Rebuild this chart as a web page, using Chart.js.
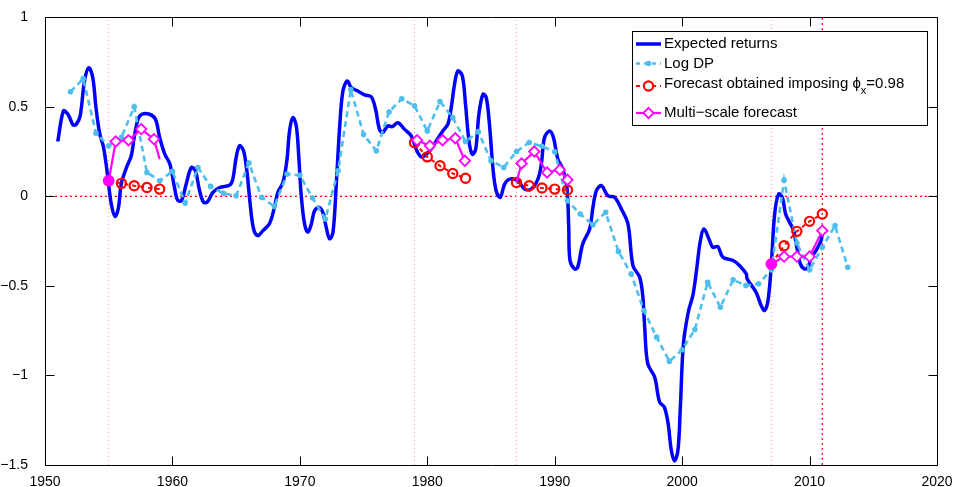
<!DOCTYPE html>
<html>
<head>
<meta charset="utf-8">
<script src="https://cdn.jsdelivr.net/npm/chart.js@4.4.1/dist/chart.umd.min.js"></script>
<style>
  html, body { margin: 0; padding: 0; background: #fff; }
  #wrap { width: 958px; height: 487px; }
</style>
</head>
<body>
<div id="wrap"><canvas id="c" width="958" height="487"></canvas></div>
<script>
// expected returns (smooth curve)
const erYears = [
  1951.0, 1951.45, 1951.8, 1952.2, 1952.45, 1952.76, 1953.1, 1953.44, 1953.75, 1954.0,
  1954.3, 1954.6, 1954.93, 1955.2, 1955.5, 1955.77, 1955.98, 1956.4, 1956.77, 1957.0,
  1957.3, 1957.6, 1958.2, 1958.67, 1959.0, 1959.4, 1959.8, 1960.16, 1960.4, 1960.7,
  1961.08, 1961.48, 1961.8, 1962.13, 1962.45, 1962.75, 1963.17, 1963.7, 1964.5, 1964.74,
  1965.0, 1965.27, 1965.58, 1965.84, 1966.1, 1966.37, 1966.7, 1967.1, 1967.6, 1967.94,
  1968.27, 1968.67, 1968.98, 1969.19, 1969.45, 1969.72, 1969.92, 1970.1, 1970.37, 1970.63,
  1970.9, 1971.15, 1971.5, 1971.8, 1972.07, 1972.33, 1972.6, 1972.86, 1973.12, 1973.38,
  1973.72, 1974.03, 1974.55, 1975.08, 1975.6, 1975.94, 1976.24, 1976.5, 1976.9, 1977.25,
  1977.7, 1978.2, 1978.74, 1979.18, 1979.53, 1979.87, 1980.3, 1980.7, 1981.22, 1981.62,
  1981.88, 1982.14, 1982.4, 1982.75, 1983.0, 1983.27, 1983.53, 1983.8, 1984.05, 1984.37,
  1984.63, 1984.9, 1985.15, 1985.4, 1985.73, 1986.07, 1986.46, 1987.1, 1987.64, 1988.16,
  1988.68, 1988.95, 1989.2, 1989.6, 1989.9, 1990.25, 1990.64, 1990.96, 1991.1, 1991.2,
  1991.56, 1991.8, 1992.2, 1992.74, 1993.0, 1993.27, 1993.66, 1994.18, 1994.7, 1995.23,
  1995.75, 1996.14, 1996.67, 1996.92, 1997.06, 1997.3, 1997.84, 1998.23, 1998.6, 1998.9,
  1999.15, 1999.4, 1999.67, 1999.86, 2000.1, 2000.5, 2000.85, 2001.15, 2001.4, 2001.7,
  2002.16, 2002.4, 2002.8, 2003.2, 2004.0, 2004.5, 2005.03, 2005.1, 2005.8, 2006.2,
  2006.47, 2006.75, 2007.0, 2007.26, 2007.57, 2007.86, 2008.12, 2008.44, 2008.75, 2009.0,
  2009.28, 2009.6, 2009.87, 2010.13, 2010.5, 2010.9, 2011.0
];
const erValues = [
  0.307, 0.478, 0.459, 0.40, 0.403, 0.45, 0.645, 0.719, 0.663, 0.496,
  0.348, 0.273, 0.106, -0.042, -0.111, -0.061, 0.069, 0.162, 0.227, 0.329,
  0.431, 0.459, 0.459, 0.431, 0.329, 0.236, 0.181, 0.05, -0.02, -0.024,
  0.069, 0.162, 0.143, 0.032, -0.033, -0.03, 0.022, 0.05, 0.064, 0.097,
  0.217, 0.283, 0.255, 0.143, -0.042, -0.182, -0.219, -0.191, -0.154, -0.08,
  0.022, 0.078, 0.199, 0.366, 0.44, 0.394, 0.217, 0.013, -0.154, -0.2,
  -0.154, -0.08, -0.061, -0.089, -0.173, -0.237, -0.2, 0.069, 0.385, 0.589,
  0.645, 0.608, 0.589, 0.567, 0.557, 0.487, 0.376, 0.357, 0.394, 0.39,
  0.412, 0.376, 0.338, 0.255, 0.221, 0.232, 0.264, 0.31, 0.366, 0.404,
  0.496, 0.627, 0.701, 0.673, 0.515, 0.31, 0.236, 0.264, 0.459, 0.571,
  0.552, 0.385, 0.16, 0.032, -0.005, 0.069, 0.097, 0.088, 0.041, 0.041,
  0.097, 0.181, 0.329, 0.366, 0.329, 0.208, 0.153, 0.05, -0.173, -0.358,
  -0.405, -0.396, -0.265, -0.182, -0.061, 0.032, 0.06, 0.004, -0.005, -0.07,
  -0.154, -0.386, -0.452, -0.563, -0.73, -0.934, -1.009, -1.148, -1.176, -1.269,
  -1.418, -1.477, -1.418, -1.176, -0.823, -0.64, -0.55, -0.4, -0.26, -0.182,
  -0.247, -0.284, -0.28, -0.34, -0.358, -0.386, -0.433, -0.46, -0.535, -0.609,
  -0.637, -0.575, -0.377, -0.098, 0.013, -0.005, -0.098, -0.145, -0.191, -0.284,
  -0.377, -0.405, -0.396, -0.34, -0.303, -0.247, -0.2
];

// log dividend-price ratio, yearly
const dpYears = [
  1952, 1953, 1954, 1955, 1956, 1957, 1958, 1959, 1960, 1961, 1962, 1963, 1964, 1965, 1966,
  1967, 1968, 1969, 1970, 1971, 1972, 1973, 1974, 1975, 1976, 1977, 1978, 1979, 1980, 1981,
  1982, 1983, 1984, 1985, 1986, 1987, 1988, 1989, 1990, 1991, 1992, 1993, 1994, 1995, 1996,
  1997, 1998, 1999, 2000, 2001, 2002, 2003, 2004, 2005, 2006, 2007, 2008, 2009, 2010, 2011,
  2012, 2013
];
const dpValues = [
  0.585, 0.658, 0.353, 0.283, 0.33, 0.50, 0.134, 0.088, 0.14, -0.037, 0.162, 0.056, 0.017, 0.004, 0.186,
  -0.005, -0.056, 0.125, 0.118, -0.009, -0.126, 0.143, 0.597, 0.346, 0.255, 0.472, 0.546, 0.506, 0.366, 0.53,
  0.44, 0.307, 0.362, 0.199, 0.162, 0.251, 0.301, 0.28, 0.25, -0.024, -0.098, -0.158, -0.089, -0.307, -0.433,
  -0.637, -0.786, -0.921, -0.856, -0.743, -0.479, -0.619, -0.466, -0.498, -0.488, -0.41, 0.091, -0.26, -0.41, -0.284,
  -0.163, -0.396
];

// forecasts obtained imposing phi_x = 0.98, one list per start date
const fcYears = [
  [1955, 1956, 1957, 1958, 1959],
  [1979, 1980, 1981, 1982, 1983],
  [1987, 1988, 1989, 1990, 1991],
  [2007, 2008, 2009, 2010, 2011]
];
const fcValues = [
  [0.088, 0.073, 0.06, 0.05, 0.041],
  [0.30, 0.221, 0.171, 0.128, 0.102],
  [0.078, 0.06, 0.047, 0.041, 0.036],
  [-0.377, -0.275, -0.195, -0.139, -0.098]
];

// multi-scale forecasts
const msYears = [
  [1955, 1955.55, 1956.55, 1957.55, 1958.55, 1959],
  [1979, 1979.2, 1980.2, 1981.2, 1982.2, 1982.95],
  [1987, 1987.4, 1988.4, 1989.4, 1990.4, 1991],
  [2007, 2008, 2009, 2010, 2011]
];
const msValues = [
  [0.088, 0.307, 0.314, 0.376, 0.32, 0.208],
  [0.30, 0.314, 0.283, 0.314, 0.325, 0.199],
  [0.078, 0.184, 0.251, 0.134, 0.149, 0.093],
  [-0.377, -0.336, -0.336, -0.336, -0.191]
];

const startYears = [1955, 1979, 1987, 2007];
const lastYear = 2011;

const xTicks = [1950, 1960, 1970, 1980, 1990, 2000, 2010, 2020];
const yTicks = [-1.5, -1, -0.5, 0, 0.5, 1];
const seriesNames = ['Expected returns', 'Log DP', 'Forecast obtained imposing ', 'Multi\u2212scale forecast'];

const BLUE = '#0000ff';
const CYAN = '#4dbeee';
const RED = '#ff0000';
const MAGENTA = '#ff00ff';
const FONT = "'Liberation Sans', Arial, Helvetica, sans-serif";

const pts = (xs, ys) => xs.map((x, i) => ({ x, y: ys[i] }));
const minus = (v) => (v < 0 ? '\u2212' + Math.abs(v) : String(v));

const datasets = [];

// reference lines
startYears.forEach((yr) => {
  datasets.push({
    data: [{ x: yr, y: -1.5 }, { x: yr, y: 1 }],
    borderColor: '#ff9a9a', borderWidth: 1, borderDash: [1, 3],
    pointRadius: 0, order: 5,
  });
});
datasets.push({
  data: [{ x: lastYear, y: -1.5 }, { x: lastYear, y: 1 }],
  borderColor: RED, borderWidth: 1.2, borderDash: [2, 3],
  pointRadius: 0, order: 5,
});
datasets.push({
  data: [{ x: 1950, y: 0 }, { x: 2020, y: 0 }],
  borderColor: RED, borderWidth: 1.2, borderDash: [2, 3],
  pointRadius: 0, order: 5,
});

datasets.push({
  label: seriesNames[0],
  data: pts(erYears, erValues),
  borderColor: BLUE, borderWidth: 3.5, tension: 0.35,
  pointRadius: 0, order: 4,
});
datasets.push({
  label: seriesNames[1],
  data: pts(dpYears, dpValues),
  borderColor: CYAN, borderWidth: 2.6, borderDash: [6, 4],
  pointRadius: 2.8, pointBackgroundColor: CYAN, pointBorderWidth: 0,
  order: 3,
});
fcYears.forEach((xs, k) => {
  datasets.push({
    label: k === 0 ? seriesNames[2] : undefined,
    data: pts(xs, fcValues[k]),
    borderColor: RED, borderWidth: 2, borderDash: [4, 4],
    pointStyle: 'circle', pointRadius: 4.6, pointBorderWidth: 2.2,
    pointBorderColor: RED, pointBackgroundColor: 'rgba(0,0,0,0)',
    order: 2,
  });
});
msYears.forEach((xs, k) => {
  const n = xs.length;
  datasets.push({
    label: k === 0 ? seriesNames[3] : undefined,
    data: pts(xs, msValues[k]),
    borderColor: MAGENTA, borderWidth: 2.2,
    pointStyle: (c) => (c.dataIndex === 0 ? 'circle' : 'rectRot'),
    pointRadius: (c) => {
      if (c.dataIndex === 0) return (k === 0 || k === 3) ? 4.8 : 0;
      if (c.dataIndex === n - 1 && k === 0) return 0;
      return 5.2;
    },
    pointBorderWidth: 1.8,
    pointBorderColor: MAGENTA,
    pointBackgroundColor: (c) => (c.dataIndex === 0 ? MAGENTA : '#fff'),
    order: 1,
  });
});

// box round the plot with ticks pointing inwards, as MATLAB draws it
const framePlugin = {
  id: 'frame',
  afterDatasetsDraw(chart) {
    const { ctx, chartArea: a, scales: { x, y } } = chart;
    const L = Math.round(a.left) + 0.5, R = Math.round(a.right) + 0.5;
    const T = Math.round(a.top) + 0.5, B = Math.round(a.bottom) + 0.5;
    const len = 9;
    ctx.save();
    ctx.strokeStyle = '#000';
    ctx.lineWidth = 1;
    ctx.beginPath();
    ctx.rect(L, T, R - L, B - T);
    xTicks.forEach((v) => {
      const px = Math.round(x.getPixelForValue(v)) + 0.5;
      ctx.moveTo(px, B); ctx.lineTo(px, B - len);
      ctx.moveTo(px, T); ctx.lineTo(px, T + len);
    });
    yTicks.forEach((v) => {
      const py = Math.round(y.getPixelForValue(v)) + 0.5;
      ctx.moveTo(L, py); ctx.lineTo(L + len, py);
      ctx.moveTo(R, py); ctx.lineTo(R - len, py);
    });
    ctx.stroke();
    ctx.restore();
  },
};

// legend box in the upper right corner
const legendPlugin = {
  id: 'boxLegend',
  afterDraw(chart) {
    const { ctx } = chart;
    const bx = 632, by = 31, bw = 295, bh = 94;
    const rows = [44, 63.5, 86, 113];
    const x0 = 636, x1 = 661, xm = 648.5, tx = 664;
    ctx.save();
    ctx.fillStyle = '#fff';
    ctx.fillRect(bx, by, bw, bh);
    ctx.strokeStyle = '#000';
    ctx.lineWidth = 1;
    ctx.strokeRect(bx + 0.5, by + 0.5, bw, bh);

    const seg = (yy, color, width, dash) => {
      ctx.strokeStyle = color; ctx.lineWidth = width; ctx.setLineDash(dash);
      ctx.beginPath(); ctx.moveTo(x0, yy); ctx.lineTo(x1, yy); ctx.stroke();
      ctx.setLineDash([]);
    };
    seg(rows[0], BLUE, 3.5, []);
    seg(rows[1], CYAN, 2.6, [4, 4]);
    ctx.fillStyle = CYAN;
    ctx.beginPath(); ctx.arc(xm, rows[1], 2.8, 0, Math.PI * 2); ctx.fill();
    seg(rows[2], RED, 2, [4, 4]);
    ctx.fillStyle = '#fff';
    ctx.beginPath(); ctx.arc(xm, rows[2], 4.6, 0, Math.PI * 2); ctx.fill();
    ctx.strokeStyle = RED; ctx.lineWidth = 2.2;
    ctx.beginPath(); ctx.arc(xm, rows[2], 4.6, 0, Math.PI * 2); ctx.stroke();
    seg(rows[3], MAGENTA, 2.2, []);
    ctx.fillStyle = '#fff'; ctx.strokeStyle = MAGENTA; ctx.lineWidth = 1.8;
    ctx.beginPath();
    ctx.moveTo(xm, rows[3] - 5.2); ctx.lineTo(xm + 5.2, rows[3]);
    ctx.lineTo(xm, rows[3] + 5.2); ctx.lineTo(xm - 5.2, rows[3]); ctx.closePath();
    ctx.fill(); ctx.stroke();

    ctx.fillStyle = '#000';
    ctx.textBaseline = 'middle';
    ctx.font = '15px ' + FONT;
    ctx.fillText(seriesNames[0], tx, rows[0]);
    ctx.fillText(seriesNames[1], tx, rows[1]);
    ctx.fillText(seriesNames[3], tx, rows[3]);
    const yy = rows[2] - 2;
    ctx.fillText(seriesNames[2], tx, yy);
    let cx = tx + ctx.measureText(seriesNames[2]).width;
    ctx.fillText('\u03d5', cx, yy);
    cx += ctx.measureText('\u03d5').width;
    ctx.font = '11px ' + FONT;
    ctx.fillText('x', cx, yy + 7);
    cx += ctx.measureText('x').width;
    ctx.font = '15px ' + FONT;
    ctx.fillText('=0.98', cx, yy);
    ctx.restore();
  },
};

new Chart(document.getElementById('c'), {
  type: 'line',
  data: { datasets },
  options: {
    responsive: false,
    animation: false,
    devicePixelRatio: 1,
    layout: { padding: { top: 16, right: 21, left: 0, bottom: 0 } },
    plugins: { legend: { display: false }, tooltip: { enabled: false } },
    elements: { line: { fill: false } },
    scales: {
      x: {
        type: 'linear', min: 1950, max: 2020,
        afterBuildTicks: (s) => { s.ticks = xTicks.map((v) => ({ value: v })); },
        afterFit: (s) => { s.height = 22; },
        grid: { display: false }, border: { display: false },
        ticks: { color: '#000', font: { family: FONT, size: 14 }, padding: 1, maxRotation: 0,
                 callback: (v) => String(v) },
      },
      y: {
        type: 'linear', min: -1.5, max: 1,
        afterBuildTicks: (s) => { s.ticks = yTicks.map((v) => ({ value: v })); },
        afterFit: (s) => { s.width = 45; },
        grid: { display: false }, border: { display: false },
        ticks: { color: '#000', font: { family: FONT, size: 14 }, padding: 9,
                 callback: (v) => minus(v) },
      },
    },
  },
  plugins: [framePlugin, legendPlugin],
});
</script>
</body>
</html>
